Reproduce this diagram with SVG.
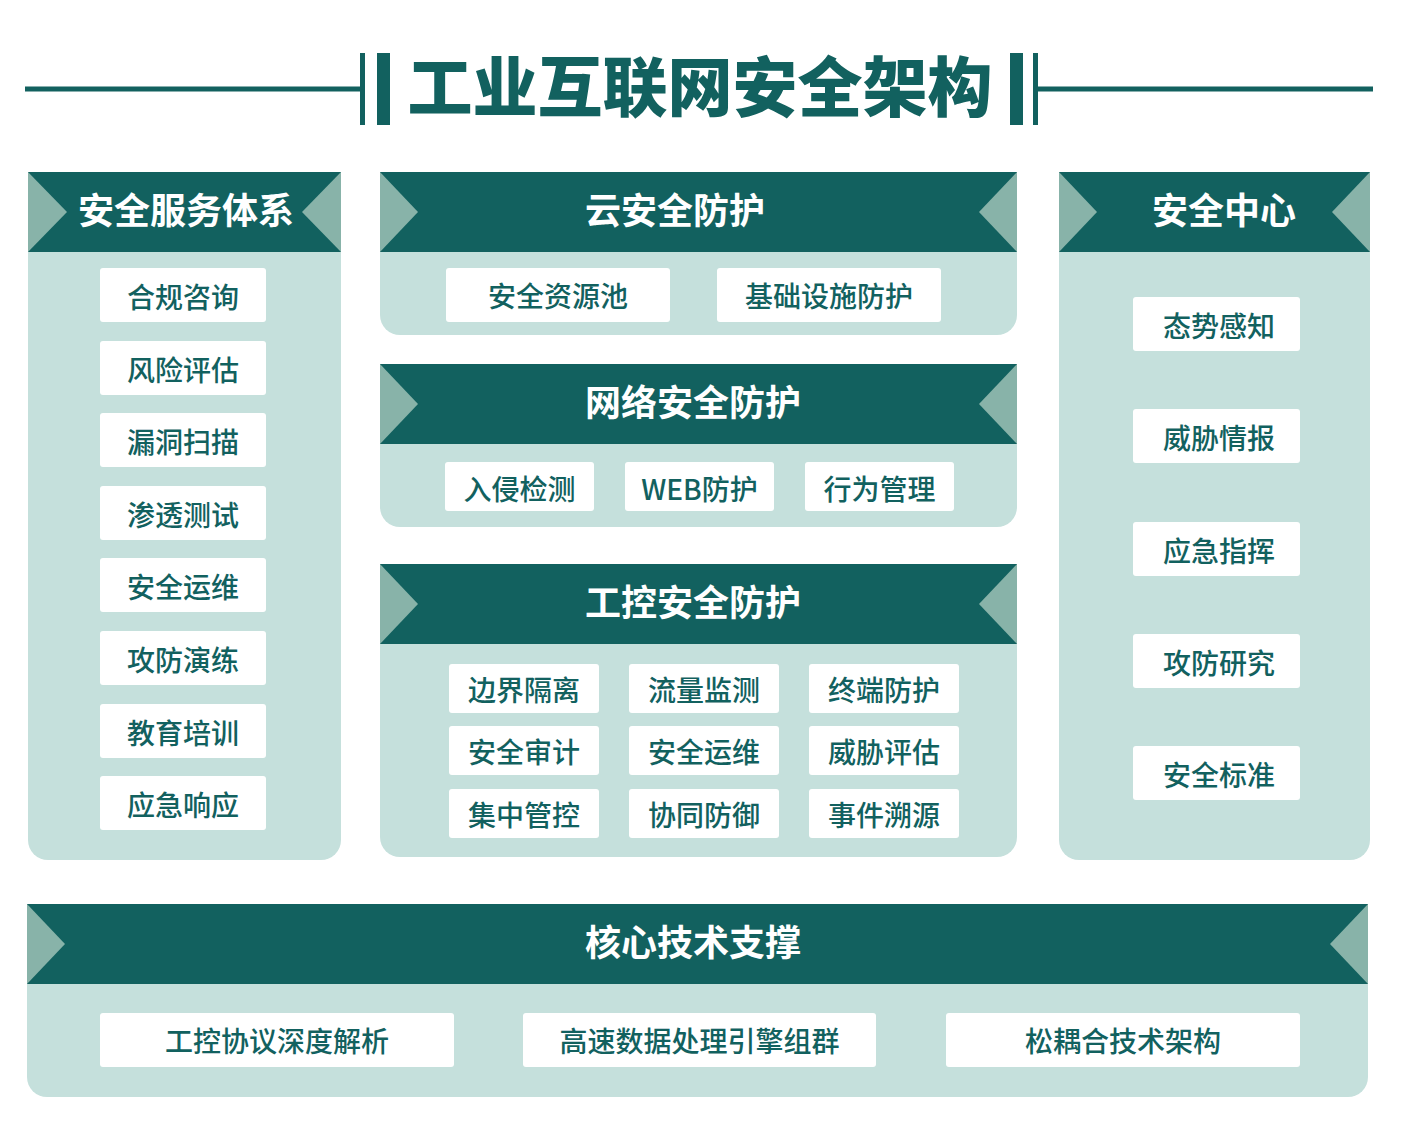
<svg xmlns="http://www.w3.org/2000/svg" width="1401" height="1122" viewBox="0 0 1401 1122">
<style>
.body{fill:#c5e0dc}
.hdr{fill:#12615f}
.tri{fill:#88b3a9}
.box{fill:#ffffff}
.ht{font-family:"Noto Sans CJK SC","Noto Sans",sans-serif;font-weight:700;font-size:36px;fill:#ffffff}
.it{font-family:"Noto Sans CJK SC","Noto Sans",sans-serif;font-weight:500;font-size:28px;fill:#12615f;text-anchor:middle}
.title{font-family:"Noto Sans CJK SC","Noto Sans",sans-serif;font-weight:900;font-size:65px;fill:#12615f;text-anchor:middle}
.ln{stroke:#12615f;fill:none}
</style>
<rect width="1401" height="1122" fill="#ffffff"/>
<g id="title">
<line class="ln" x1="25" y1="89" x2="362" y2="89" stroke-width="5"/>
<rect x="360" y="53" width="5" height="72" fill="#12615f"/>
<rect x="377" y="53" width="13" height="72" fill="#12615f"/>
<line class="ln" x1="1036" y1="89" x2="1373" y2="89" stroke-width="5"/>
<rect x="1033" y="53" width="5" height="72" fill="#12615f"/>
<rect x="1010" y="53" width="13" height="72" fill="#12615f"/>
<text class="title" x="700" y="111">工业互联网安全架构</text>
</g>

<g id="service">
<path class="body" d="M28,172H341V840A20,20 0 0 1 321,860H48A20,20 0 0 1 28,840Z"/>
<rect class="hdr" x="28" y="172" width="313" height="80"/>
<polygon class="tri" points="28,172 67,212 28,252"/>
<polygon class="tri" points="341,172 302,212 341,252"/>
<text class="ht" x="186" y="224" text-anchor="middle">安全服务体系</text>
<g id="s1"><rect class="box" x="100" y="268" width="166" height="54" rx="3"/><text class="it" x="183" y="307.5">合规咨询</text></g>
<g id="s2"><rect class="box" x="100" y="341" width="166" height="54" rx="3"/><text class="it" x="183" y="380.5">风险评估</text></g>
<g id="s3"><rect class="box" x="100" y="413" width="166" height="54" rx="3"/><text class="it" x="183" y="452.5">漏洞扫描</text></g>
<g id="s4"><rect class="box" x="100" y="486" width="166" height="54" rx="3"/><text class="it" x="183" y="525.5">渗透测试</text></g>
<g id="s5"><rect class="box" x="100" y="558" width="166" height="54" rx="3"/><text class="it" x="183" y="597.5">安全运维</text></g>
<g id="s6"><rect class="box" x="100" y="631" width="166" height="54" rx="3"/><text class="it" x="183" y="670.5">攻防演练</text></g>
<g id="s7"><rect class="box" x="100" y="704" width="166" height="54" rx="3"/><text class="it" x="183" y="743.5">教育培训</text></g>
<g id="s8"><rect class="box" x="100" y="776" width="166" height="54" rx="3"/><text class="it" x="183" y="815.5">应急响应</text></g>
</g>

<g id="cloud">
<path class="body" d="M380,172H1017V315A20,20 0 0 1 997,335H400A20,20 0 0 1 380,315Z"/>
<rect class="hdr" x="380" y="172" width="637" height="80"/>
<polygon class="tri" points="380,172 418,212 380,252"/>
<polygon class="tri" points="1017,172 979,212 1017,252"/>
<text class="ht" x="585" y="224">云安全防护</text>
<g id="c1"><rect class="box" x="446" y="268" width="224" height="54" rx="3"/><text class="it" x="558" y="307">安全资源池</text></g>
<g id="c2"><rect class="box" x="717" y="268" width="224" height="54" rx="3"/><text class="it" x="829" y="307">基础设施防护</text></g>
</g>

<g id="network">
<path class="body" d="M380,364H1017V507A20,20 0 0 1 997,527H400A20,20 0 0 1 380,507Z"/>
<rect class="hdr" x="380" y="364" width="637" height="80"/>
<polygon class="tri" points="380,364 418,404 380,444"/>
<polygon class="tri" points="1017,364 979,404 1017,444"/>
<text class="ht" x="585" y="416">网络安全防护</text>
<g id="n1"><rect class="box" x="445" y="462" width="149" height="49" rx="3"/><text class="it" x="519.5" y="499.5">入侵检测</text></g>
<g id="n2"><rect class="box" x="625" y="462" width="149" height="49" rx="3"/><text class="it" x="699.5" y="499.5">WEB防护</text></g>
<g id="n3"><rect class="box" x="805" y="462" width="149" height="49" rx="3"/><text class="it" x="879.5" y="499.5">行为管理</text></g>
</g>

<g id="ics">
<path class="body" d="M380,564H1017V837A20,20 0 0 1 997,857H400A20,20 0 0 1 380,837Z"/>
<rect class="hdr" x="380" y="564" width="637" height="80"/>
<polygon class="tri" points="380,564 418,604 380,644"/>
<polygon class="tri" points="1017,564 979,604 1017,644"/>
<text class="ht" x="585" y="616">工控安全防护</text>
<g id="i1"><rect class="box" x="449" y="664" width="150" height="49" rx="3"/><text class="it" x="524" y="700.5">边界隔离</text></g>
<g id="i2"><rect class="box" x="629" y="664" width="150" height="49" rx="3"/><text class="it" x="704" y="700.5">流量监测</text></g>
<g id="i3"><rect class="box" x="809" y="664" width="150" height="49" rx="3"/><text class="it" x="884" y="700.5">终端防护</text></g>
<g id="i4"><rect class="box" x="449" y="726" width="150" height="49" rx="3"/><text class="it" x="524" y="762.5">安全审计</text></g>
<g id="i5"><rect class="box" x="629" y="726" width="150" height="49" rx="3"/><text class="it" x="704" y="762.5">安全运维</text></g>
<g id="i6"><rect class="box" x="809" y="726" width="150" height="49" rx="3"/><text class="it" x="884" y="762.5">威胁评估</text></g>
<g id="i7"><rect class="box" x="449" y="789" width="150" height="49" rx="3"/><text class="it" x="524" y="825.5">集中管控</text></g>
<g id="i8"><rect class="box" x="629" y="789" width="150" height="49" rx="3"/><text class="it" x="704" y="825.5">协同防御</text></g>
<g id="i9"><rect class="box" x="809" y="789" width="150" height="49" rx="3"/><text class="it" x="884" y="825.5">事件溯源</text></g>
</g>

<g id="center">
<path class="body" d="M1059,172H1370V840A20,20 0 0 1 1350,860H1079A20,20 0 0 1 1059,840Z"/>
<rect class="hdr" x="1059" y="172" width="311" height="80"/>
<polygon class="tri" points="1059,172 1097,212 1059,252"/>
<polygon class="tri" points="1370,172 1332,212 1370,252"/>
<text class="ht" x="1224" y="224" text-anchor="middle">安全中心</text>
<g id="r1"><rect class="box" x="1133" y="297" width="167" height="54" rx="3"/><text class="it" x="1219" y="336.5">态势感知</text></g>
<g id="r2"><rect class="box" x="1133" y="409" width="167" height="54" rx="3"/><text class="it" x="1219" y="448.5">威胁情报</text></g>
<g id="r3"><rect class="box" x="1133" y="522" width="167" height="54" rx="3"/><text class="it" x="1219" y="561.5">应急指挥</text></g>
<g id="r4"><rect class="box" x="1133" y="634" width="167" height="54" rx="3"/><text class="it" x="1219" y="673.5">攻防研究</text></g>
<g id="r5"><rect class="box" x="1133" y="746" width="167" height="54" rx="3"/><text class="it" x="1219" y="785.5">安全标准</text></g>
</g>

<g id="core">
<path class="body" d="M27,904H1368V1077A20,20 0 0 1 1348,1097H47A20,20 0 0 1 27,1077Z"/>
<rect class="hdr" x="27" y="904" width="1341" height="80"/>
<polygon class="tri" points="27,904 65,944 27,984"/>
<polygon class="tri" points="1368,904 1330,944 1368,984"/>
<text class="ht" x="585" y="956">核心技术支撑</text>
<g id="k1"><rect class="box" x="100" y="1013" width="354" height="54" rx="3"/><text class="it" x="277" y="1051.5">工控协议深度解析</text></g>
<g id="k2"><rect class="box" x="523" y="1013" width="353" height="54" rx="3"/><text class="it" x="699.5" y="1051.5">高速数据处理引擎组群</text></g>
<g id="k3"><rect class="box" x="946" y="1013" width="354" height="54" rx="3"/><text class="it" x="1123" y="1051.5">松耦合技术架构</text></g>
</g>
<g id="connectors"/>
</svg>
